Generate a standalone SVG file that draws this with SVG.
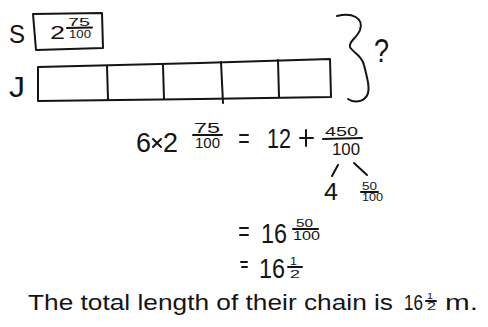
<svg xmlns="http://www.w3.org/2000/svg" width="488" height="327" viewBox="0 0 488 327">
<style>
.t{font-family:"Liberation Sans",Arial,sans-serif;fill:#141414}
.s{stroke:#141414;stroke-width:2;fill:none;stroke-linecap:round;stroke-linejoin:round}
</style>
<rect width="488" height="327" fill="#fff"/>
<g id="labels">
<text class="t" x="9" y="43" font-size="25" textLength="16" lengthAdjust="spacingAndGlyphs">S</text>
<text class="t" x="9" y="97" font-size="30" textLength="16" lengthAdjust="spacingAndGlyphs">J</text>
</g>
<g id="s-bar">
<path class="s" d="M33,14 L102,13 L103,48 L36,50 Z"/>
<text class="t" x="50" y="39" font-size="18" textLength="15" lengthAdjust="spacingAndGlyphs">2</text>
<text class="t" x="68" y="26" font-size="11" textLength="22" lengthAdjust="spacingAndGlyphs">75</text>
<line class="s" x1="67" y1="28" x2="92" y2="27.5" stroke-width="1.6"/>
<text class="t" x="69" y="38" font-size="11" textLength="22" lengthAdjust="spacingAndGlyphs">100</text>
</g>
<g id="j-bar">
<path class="s" d="M38,67 L200,63 L330,59 L331,97 L200,99 L38,101 Z"/>
<path class="s" d="M107,66 L108,99 M163,65 L164,99 M221,62 L223,103 M278,60 L279,97"/>
</g>
<g id="total">
<path class="s" d="M337,16 C352,12 364,18 360,30 C357,38 348,42 350,47 C352,52 362,55 364,65 C367,78 372,92 365,98 C360,103 352,102 348,99"/>
<text class="t" x="374" y="62" font-size="34" textLength="15" lengthAdjust="spacingAndGlyphs">?</text>
</g>
<g id="equation1">
<text class="t" x="136" y="152" font-size="28" textLength="15" lengthAdjust="spacingAndGlyphs">6</text>
<path class="s" d="M153,139 L161,147 M161,139 L153,147"/>
<text class="t" x="163" y="152" font-size="28" textLength="15" lengthAdjust="spacingAndGlyphs">2</text>
<text class="t" x="194" y="133" font-size="15" textLength="26" lengthAdjust="spacingAndGlyphs">75</text>
<line class="s" x1="193" y1="135" x2="222" y2="135"/>
<text class="t" x="195" y="148" font-size="14" textLength="25" lengthAdjust="spacingAndGlyphs">100</text>
<path class="s" d="M240,135 L248,135 M240,142 L248,142"/>
<text class="t" x="267" y="148" font-size="27" textLength="24" lengthAdjust="spacingAndGlyphs">12</text>
<path class="s" d="M300,138 L313,138 M306,130 L306,146"/>
<text class="t" x="325" y="135.5" font-size="12" textLength="33" lengthAdjust="spacingAndGlyphs">450</text>
<line class="s" x1="323" y1="139" x2="362" y2="138"/>
<text class="t" x="332" y="155" font-size="16" textLength="28" lengthAdjust="spacingAndGlyphs">100</text>
</g>
<g id="connectors">
<line class="s" x1="338" y1="165" x2="332" y2="176"/>
<line class="s" x1="354" y1="163" x2="367" y2="175"/>
</g>
<g id="split">
<text class="t" x="324" y="200" font-size="24" textLength="14" lengthAdjust="spacingAndGlyphs">4</text>
<text class="t" x="362" y="190" font-size="10" textLength="15" lengthAdjust="spacingAndGlyphs">50</text>
<line class="s" x1="361" y1="192" x2="378" y2="192" stroke-width="1.6"/>
<text class="t" x="362" y="201" font-size="10" textLength="21" lengthAdjust="spacingAndGlyphs">100</text>
</g>
<g id="equation2">
<path class="s" d="M240,228 L248,228 M240,235 L248,235"/>
<text class="t" x="261" y="243" font-size="28" textLength="26" lengthAdjust="spacingAndGlyphs">16</text>
<text class="t" x="296" y="227" font-size="11" textLength="17" lengthAdjust="spacingAndGlyphs">50</text>
<line class="s" x1="293" y1="229" x2="318" y2="229"/>
<text class="t" x="293" y="240" font-size="12" textLength="27" lengthAdjust="spacingAndGlyphs">100</text>
</g>
<g id="equation3">
<path class="s" d="M241,262 L247,262 M242,267 L247,267"/>
<text class="t" x="259" y="278" font-size="28" textLength="26" lengthAdjust="spacingAndGlyphs">16</text>
<text class="t" x="290" y="265" font-size="11" textLength="7" lengthAdjust="spacingAndGlyphs">1</text>
<line class="s" x1="288" y1="267" x2="302" y2="267"/>
<text class="t" x="290" y="278" font-size="11" textLength="10" lengthAdjust="spacingAndGlyphs">2</text>
</g>
<g id="answer">
<text class="t" x="28" y="310" font-size="22" textLength="365" lengthAdjust="spacingAndGlyphs">The total length of their chain is</text>
<text class="t" x="404" y="310" font-size="22" textLength="19" lengthAdjust="spacingAndGlyphs">16</text>
<text class="t" x="427" y="299" font-size="9" textLength="6" lengthAdjust="spacingAndGlyphs">1</text>
<line class="s" x1="426" y1="301" x2="436" y2="301" stroke-width="1.5"/>
<text class="t" x="427" y="310" font-size="11" textLength="9" lengthAdjust="spacingAndGlyphs">2</text>
<text class="t" x="445" y="310" font-size="22" textLength="33" lengthAdjust="spacingAndGlyphs">m.</text>
</g>
</svg>
